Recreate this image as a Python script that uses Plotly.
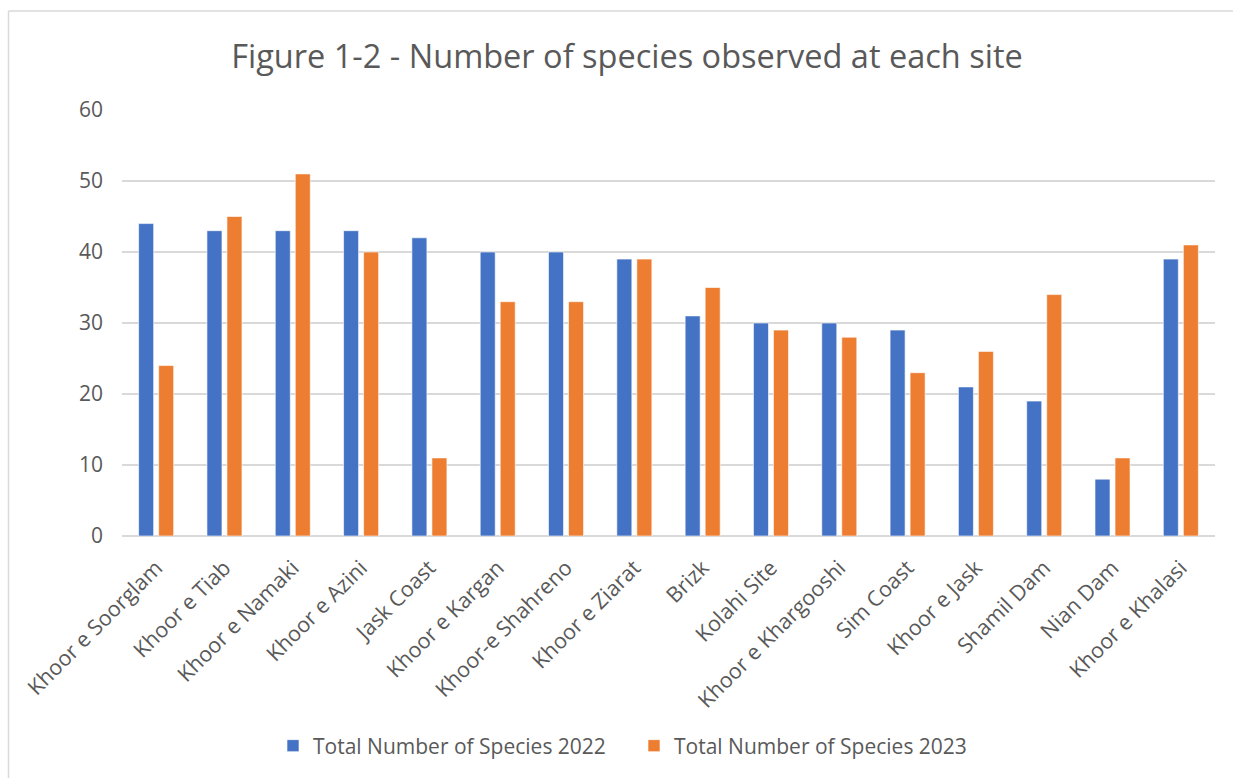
import plotly.graph_objects as go

sites = [
    "Khoor e Soorglam", "Khoor e Tiab", "Khoor e Namaki", "Khoor e Azini",
    "Jask Coast", "Khoor e Kargan", "Khoor-e Shahreno", "Khoor e Ziarat",
    "Brizk", "Kolahi Site", "Khoor e Khargooshi", "Sim Coast",
    "Khoor e Jask", "Shamil Dam", "Nian Dam", "Khoor e Khalasi",
]
species_2022 = [44, 43, 43, 43, 42, 40, 40, 39, 31, 30, 30, 29, 21, 19, 8, 39]
species_2023 = [24, 45, 51, 40, 11, 33, 33, 39, 35, 29, 28, 23, 26, 34, 11, 41]

FONT = "Open Sans"
TEXT = "#595959"
GRID = "#D9D9D9"

fig = go.Figure()
fig.add_trace(go.Bar(
    x=sites, y=species_2022, name="Total Number of Species 2022",
    marker=dict(color="#4472C4", line=dict(color="rgba(255,255,255,0.6)", width=1)),
))
fig.add_trace(go.Bar(
    x=sites, y=species_2023, name="Total Number of Species 2023",
    marker=dict(color="#ED7D31", line=dict(color="rgba(255,255,255,0.6)", width=1)),
))

# light frame around the chart (top and left edges)
L, R, T, B = 122, 18, 110, 242
W, H = 1233, 778
pw, ph = W - L - R, H - T - B
def px(x):
    return (x - L) / pw
def py(y):
    return (H - B - y) / ph

frame = dict(type="line", xref="paper", yref="paper",
             line=dict(color=GRID, width=1.5), layer="below")
fig.add_shape(**frame, x0=px(8.5), x1=px(1233), y0=py(11), y1=py(11))
fig.add_shape(**frame, x0=px(8.5), x1=px(8.5), y0=py(11), y1=py(778))

fig.update_layout(
    width=W, height=H,
    margin=dict(l=L, r=R, t=T, b=B, autoexpand=False),
    paper_bgcolor="white", plot_bgcolor="white",
    barmode="group", bargap=0.414, bargroupgap=0.25,
    title=dict(
        text="Figure 1-2 - Number of species observed at each site",
        x=627 / W, xanchor="center", xref="container",
        y=1 - 57 / H, yanchor="middle", yref="container",
        font=dict(family=FONT, size=32.5, color=TEXT),
    ),
    font=dict(family=FONT, color=TEXT),
    showlegend=True,
    legend=dict(
        orientation="h", x=px(634), xanchor="center", xref="paper",
        y=py(746), yanchor="middle",
        font=dict(family=FONT, size=21, color=TEXT),
        itemwidth=30, entrywidth=316, traceorder="normal",
    ),
    xaxis=dict(
        tickangle=-45, tickfont=dict(family=FONT, size=21.5, color=TEXT),
        showgrid=False, showline=False, ticks="", ticklabelstandoff=14,
    ),
    yaxis=dict(
        range=[0, 60], dtick=10, tickfont=dict(family=FONT, size=21, color=TEXT),
        showgrid=True, gridcolor=GRID, gridwidth=1.5,
        zeroline=True, zerolinecolor=GRID, zerolinewidth=1.5,
        ticks="", ticklabelstandoff=18, showline=False,
    ),
)

fig.write_html("out.html")
